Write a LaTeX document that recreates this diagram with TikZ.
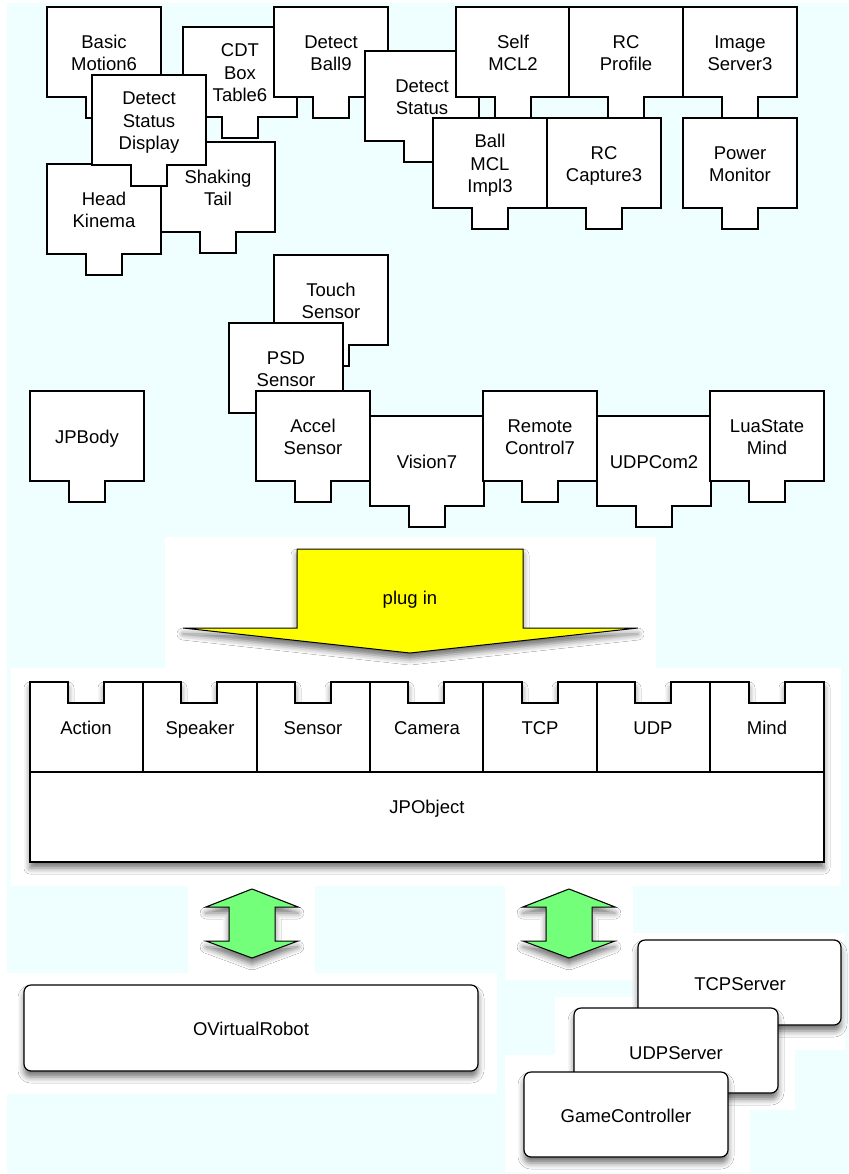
\documentclass[tikz,border=0pt]{standalone}
\usepackage{fontspec}
\setmainfont{Liberation Sans}
\usetikzlibrary{shadows.blur}

\definecolor{bgcyan}{RGB}{239,255,255}
\definecolor{plugyellow}{RGB}{255,255,0}
\definecolor{arrowgreen}{RGB}{116,255,122}

\tikzset{
  compbox/.style={draw=black, fill=white, line width=1.2pt, line join=miter},
  comptext/.style={align=center, inner sep=0pt, yshift=-2pt, font=\fontsize{18.5}{22.5}\selectfont},
  softshadow/.style={blur shadow={shadow xshift=0pt, shadow yshift=-6pt, shadow blur radius=6pt, shadow opacity=55}},
  bigarrow/.style={draw=black, line width=1pt, line join=miter, softshadow},
  roundbox/.style={draw=black, fill=white, line width=1.2pt, rounded corners=7pt, softshadow},
  patch/.style={fill=white, draw=none},
}

% component: box with a plug tab at the bottom; #1 name, (#2,#3) top-left corner, #4 label
\newcommand\component[4]{%
  \draw[compbox] (#2,#3) -- ++(114,0) -- ++(0,90) -- ++(-39,0) -- ++(0,21)
    -- ++(-36,0) -- ++(0,-21) -- ++(-39,0) -- cycle;
  \node[comptext] (#1) at (#2+57,#3+46) {\strut#4\strut};
}
% a single centred label with even vertical extent
\newcommand\lbl[3]{\node[comptext] (#1) at (#2) {\strut#3};}

\begin{document}
\begin{tikzpicture}[x=1pt, y=-1pt]
  \useasboundingbox (0,0) rectangle (848,1174);
  \fill[white] (0,0) rectangle (848,1174);
  \fill[bgcyan] (7,3) rectangle (848,1174);

  % light patches around the shadowed parts
  \fill[patch] (165,537) rectangle (656,668);
  \fill[patch] (11,668) rectangle (841,886);
  \fill[patch] (188,885) rectangle (315,982);
  \fill[patch] (505,885) rectangle (633,980);
  \fill[patch] (7,973) rectangle (497,1094);
  \fill[patch] (633,933) rectangle (845,1050);
  \fill[patch] (555,997) rectangle (795,1110);
  \fill[patch] (505,1055) rectangle (750,1172);

  % ---- plug-in components, upper left group
  \component{basicmotion}{47}{7}{Basic\\Motion6}
  \component{cdtbox}{183}{27}{CDT\\Box\\Table6}
  \component{detectball}{274}{7}{Detect\\Ball9}
  \component{shakingtail}{161}{142}{Shaking\\Tail}
  \component{headkinema}{47}{164}{Head\\Kinema}
  \component{detectdisplay}{92}{75}{Detect\\Status\\Display}

  % ---- upper right group
  \component{detectstatus}{365}{51}{Detect\\Status}
  \component{selfmcl}{456}{7}{Self\\MCL2}
  \component{rcprofile}{569}{7}{RC\\Profile}
  \component{imageserver}{683}{7}{Image\\Server3}
  \component{ballmcl}{433}{118}{Ball\\MCL\\Impl3}
  \component{rccapture}{547}{118}{RC\\Capture3}
  \component{powermonitor}{683}{118}{Power\\Monitor}

  % ---- sensors and communication
  \component{touchsensor}{274}{255}{Touch\\Sensor}
  \component{psdsensor}{229}{323}{PSD\\Sensor}
  \component{jpbody}{30}{391}{JPBody}
  \component{vision}{370}{416}{Vision7}
  \component{accelsensor}{256}{391}{Accel\\Sensor}
  \component{remotecontrol}{483}{391}{Remote\\Control7}
  \component{udpcom}{597}{416}{UDPCom2}
  \component{luastate}{710}{391}{LuaState\\Mind}

  % ---- plug in arrow
  \draw[bigarrow, fill=plugyellow] (297,549) -- (523,549) -- (523,628) -- (638,628)
    -- (410,653) -- (183,628) -- (297,628) -- cycle;
  \lbl{plugin}{410,598}{plug in}

  % ---- JPObject with its sockets
  \draw[compbox, softshadow] (30,682)
    -- (68,682) -- (68,703) -- (104,703) -- (104,682)
    -- (181,682) -- (181,703) -- (217,703) -- (217,682)
    -- (295,682) -- (295,703) -- (331,703) -- (331,682)
    -- (408,682) -- (408,703) -- (444,703) -- (444,682)
    -- (522,682) -- (522,703) -- (558,703) -- (558,682)
    -- (635,682) -- (635,703) -- (671,703) -- (671,682)
    -- (749,682) -- (749,703) -- (785,703) -- (785,682)
    -- (824,682) -- (824,862) -- (30,862) -- cycle;
  \draw[line width=1.2pt] (30,772) -- (824,772);
  \foreach \xx in {143,257,370,483,597,710}
    \draw[line width=1.2pt] (\xx,682) -- (\xx,772);
  \lbl{action}{86,728}{Action}
  \lbl{speaker}{200,728}{Speaker}
  \lbl{sensor}{313,728}{Sensor}
  \lbl{camera}{427,728}{Camera}
  \lbl{tcp}{540,728}{TCP}
  \lbl{udp}{653,728}{UDP}
  \lbl{mind}{767,728}{Mind}
  \lbl{jpobject}{427,807}{JPObject}

  % ---- two-way arrows
  \foreach \cx in {252,569}
    \draw[bigarrow, fill=arrowgreen] (\cx,889) -- (\cx+46,907) -- (\cx+23,907)
      -- (\cx+23,941) -- (\cx+46,941) -- (\cx,958) -- (\cx-46,941) -- (\cx-23,941)
      -- (\cx-23,907) -- (\cx-46,907) -- cycle;

  % ---- lower modules
  \draw[roundbox] (24,985) rectangle (478,1071);
  \lbl{ovirtual}{251,1029}{OVirtualRobot}

  \draw[roundbox] (638,940) rectangle (841,1025);
  \lbl{tcpserver}{740,984}{TCPServer}
  \draw[roundbox] (574,1008) rectangle (778,1093);
  \lbl{udpserver}{676,1053}{UDPServer}
  \draw[roundbox] (524,1072) rectangle (728,1157);
  \lbl{gamecontroller}{626,1116}{GameController}
\end{tikzpicture}
\end{document}
